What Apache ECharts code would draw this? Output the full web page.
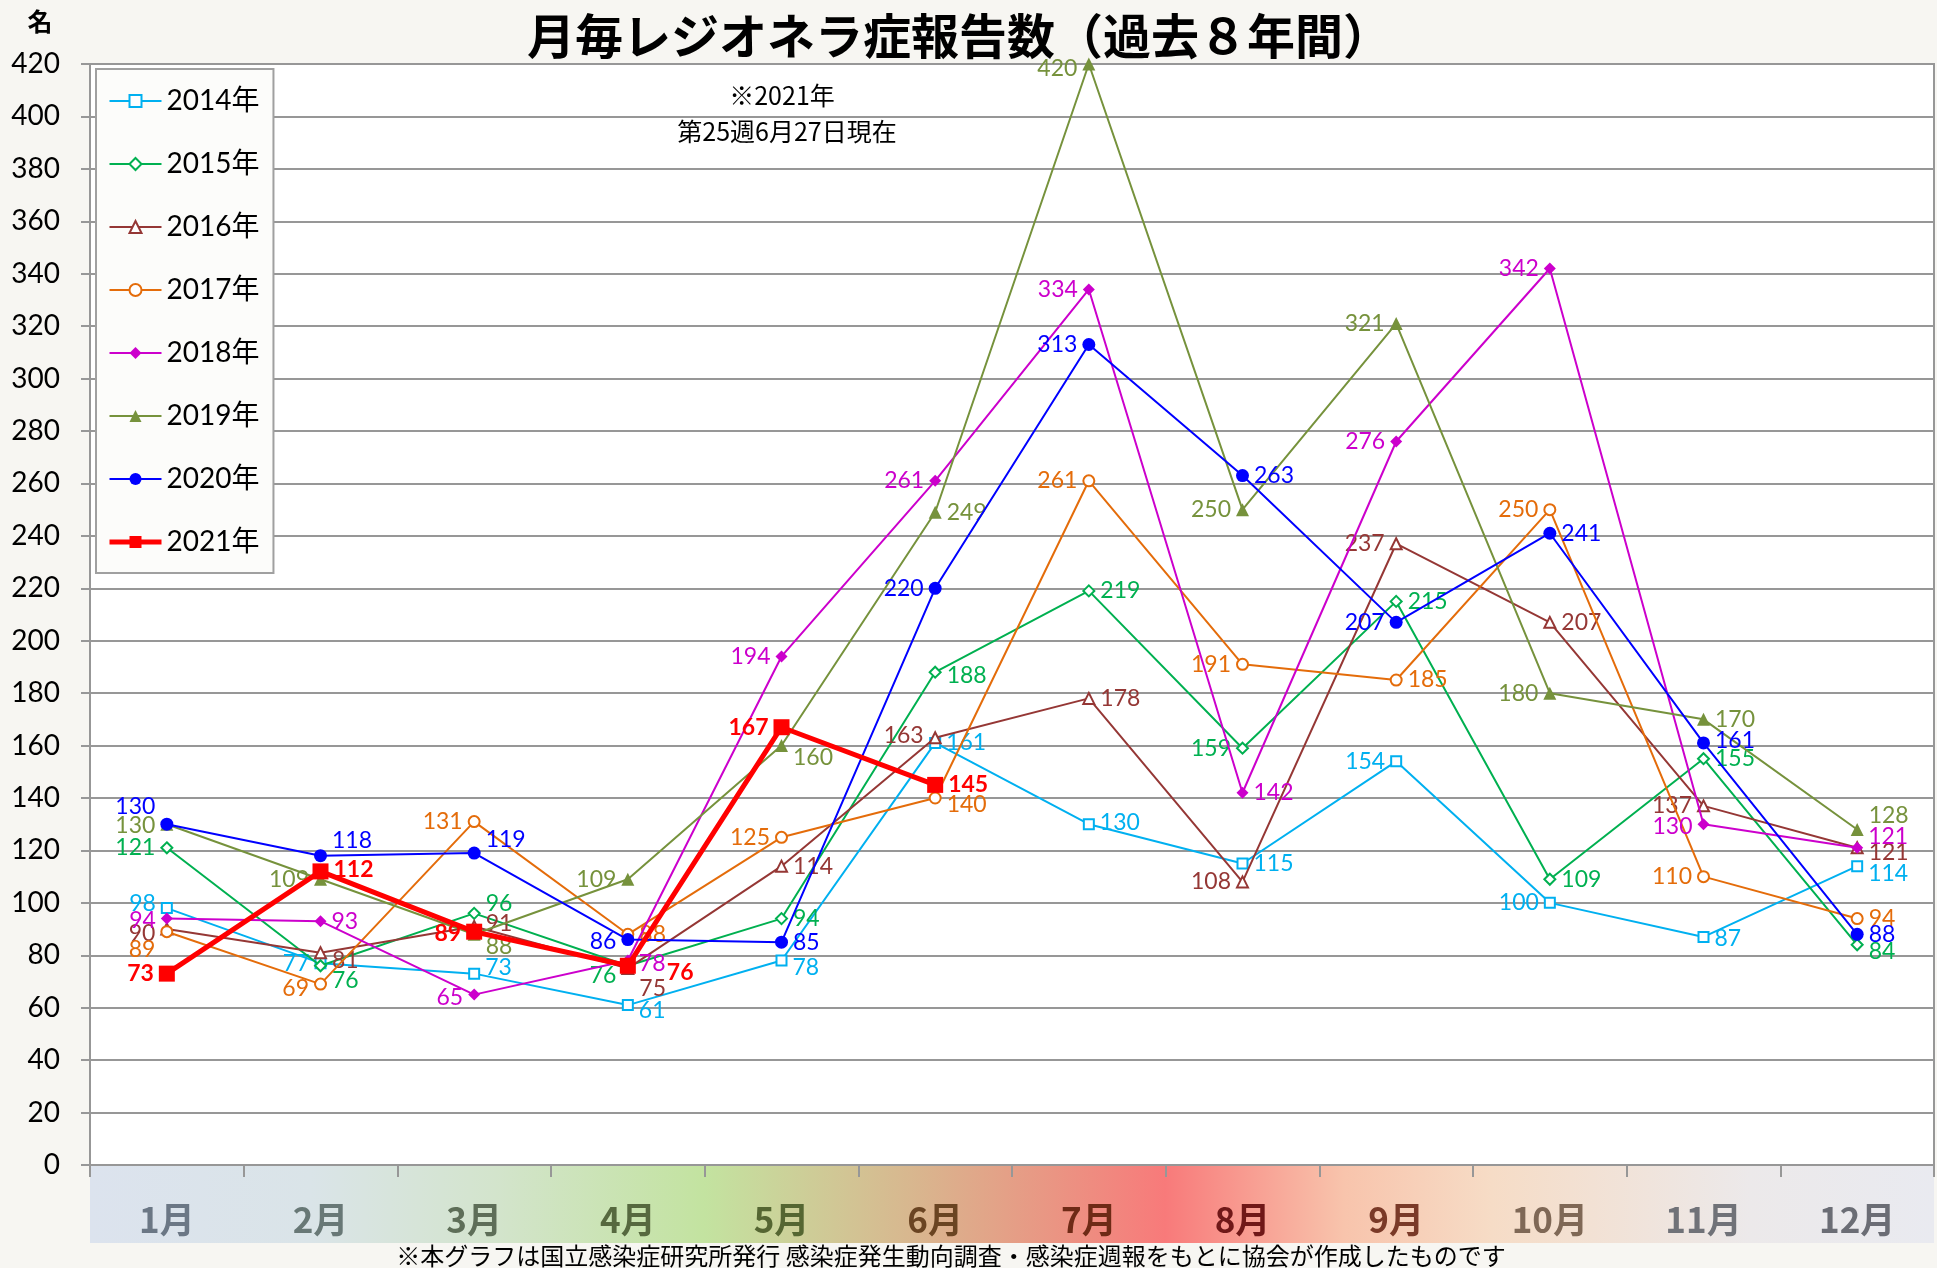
<!DOCTYPE html>
<html><head><meta charset="utf-8">
<script src="https://cdn.jsdelivr.net/npm/echarts@6/dist/echarts.min.js"></script>
<style>html,body{margin:0;padding:0;background:#f7f6f2}#c{width:1937px;height:1268px}</style>
</head><body><div id="c"></div>
<script>
// ---- data ----
const months = ['1月','2月','3月','4月','5月','6月','7月','8月','9月','10月','11月','12月'];
const seriesNames = ['2014年','2015年','2016年','2017年','2018年','2019年','2020年','2021年'];
const y2014 = [98, 77, 73, 61, 78, 161, 130, 115, 154, 100, 87, 114];
const y2015 = [121, 76, 96, 76, 94, 188, 219, 159, 215, 109, 155, 84];
const y2016 = [90, 81, 91, 75, 114, 163, 178, 108, 237, 207, 137, 121];
const y2017 = [89, 69, 131, 88, 125, 140, 261, 191, 185, 250, 110, 94];
const y2018 = [94, 93, 65, 78, 194, 261, 334, 142, 276, 342, 130, 121];
const y2019 = [130, 109, 88, 109, 160, 249, 420, 250, 321, 180, 170, 128];
const y2020 = [130, 118, 119, 86, 85, 220, 313, 263, 207, 241, 161, 88];
const y2021 = [73, 112, 89, 76, 167, 145];
const yMin = 0, yMax = 420, yStep = 20;
const titleText = '月毎レジオネラ症報告数（過去８年間）';
const unitText = '名';
const noteLines = ['※2021年', '第25週6月27日現在'];
const footerText = '※本グラフは国立感染症研究所発行 感染症発生動向調査・感染症週報をもとに協会が作成したものです';

// ---- styles (label placement per point: side and vertical shift) ----
const styles = [
  {color:'#00b0f0', symbol:'emptyRect',     size:10, width:2,
   side:'llrrrrrrllrr', dy:[-5,0,-6,5,7,0,-2,0,0,0,2,7]},
  {color:'#00b050', symbol:'emptyDiamond',  size:11, width:2,
   side:'lrrlrrrlrrrr', dy:[0,15,-10,10,0,3,0,0,0,0,0,7]},
  {color:'#953735', symbol:'emptyTriangle', size:11, width:2,
   side:'lrrrrlrllrlr', dy:[5,8,-3,20,0,-2,0,0,0,0,0,5]},
  {color:'#e46c0a', symbol:'emptyCircle',   size:11, width:2,
   side:'lllrlrllrllr', dy:[18,4,0,0,0,7,0,0,0,0,0,0]},
  {color:'#cc00cc', symbol:'diamond',       size:12, width:2,
   side:'lrlrlllrlllr', dy:[2,0,3,3,0,0,0,0,0,0,2,-11]},
  {color:'#76923c', symbol:'triangle',      size:13, width:2,
   side:'llrlrrllllrr', dy:[1,0,12,0,12,0,5,0,0,0,0,-14]},
  {color:'#0000ff', symbol:'circle',        size:13, width:2,
   side:'lrrlrllrlrrr', dy:[-18,-15,-13,2,0,0,0,0,0,0,-2,0]},
  {color:'#ff0000', symbol:'rect',          size:16, width:5, bold:true,
   side:'lrlrlr', dy:[0,-2,2,7,0,0], dx:[0,0,0,26,0,0]}
];
const allValues = [y2014,y2015,y2016,y2017,y2018,y2019,y2020,y2021];

const monthColors = ['#6b7785','#687876','#5e6e58','#56693f','#556632','#6a4422','#6e2a16','#701818','#7a3a28','#7f6856','#707278','#6b6d75'];

const GL = 90, GT = 64, GR = 3, GB = 103;
const W = 1937, H = 1268;
const CJK = '"Noto Sans CJK JP", sans-serif';

const series = allValues.map((vals, si) => {
  const st = styles[si];
  return {
    name: seriesNames[si],
    type: 'line',
    data: vals.map((v, i) => ({
      value: v,
      label: {
        position: st.side[i] === 'l' ? 'left' : 'right',
        offset: [st.dx ? st.dx[i] * (st.side[i]==='l'?-1:1) : 0, st.dy[i]]
      }
    })),
    symbol: st.symbol,
    symbolSize: st.size,
    showAllSymbol: true,
    color: st.color,
    lineStyle: {color: st.color, width: st.width},
    itemStyle: {color: st.color, borderColor: st.color, borderWidth: st.symbol.startsWith('empty') ? 1.6 : 0},
    label: {
      show: true,
      color: st.color,
      fontSize: 23,
      fontFamily: 'Lato, "Noto Sans", sans-serif',
      fontWeight: st.bold ? 'bold' : 'normal',
      distance: 5
    },
    emphasis: {disabled: true},
    z: 2 + si,
    animation: false
  };
});

const chart = echarts.init(document.getElementById('c'), null, {renderer: 'canvas', width: W, height: H});
chart.setOption({
  backgroundColor: '#f7f6f2',
  animation: false,
  legend: {
    orient: 'vertical', left: 96, top: 69,
    data: seriesNames.map((n, i) => ({name: n, lineStyle: {width: styles[i].width}})),
    itemWidth: 52, itemHeight: 15, itemGap: 33,
    padding: [17, 14, 16, 11],
    backgroundColor: '#fcfcfa', borderColor: '#a0a0a0', borderWidth: 2,
    textStyle: {fontSize: 28, color: '#000', fontFamily: 'Lato, "Noto Sans CJK JP", sans-serif', lineHeight: 30}
  },
  grid: {left: GL, right: GR, top: GT, bottom: GB, show: true, backgroundColor: '#ffffff', borderColor: '#979797', borderWidth: 2},
  xAxis: {
    type: 'category', data: months.map((m, i) => ({value: m, textStyle: {color: monthColors[i]}})),
    boundaryGap: true,
    axisLine: {lineStyle: {color: '#979797', width: 2}},
    axisTick: {show: true, length: 12, lineStyle: {color: '#979797', width: 2}},
    axisLabel: {margin: 37, fontSize: 35, fontWeight: 'bold', fontFamily: CJK}
  },
  yAxis: {
    type: 'value', min: yMin, max: yMax, interval: yStep,
    axisLine: {show: true, lineStyle: {color: '#979797', width: 2}},
    axisTick: {show: true, length: 9, lineStyle: {color: '#979797', width: 2}},
    axisLabel: {margin: 30, fontSize: 28, color: '#000', fontFamily: 'Lato, "Noto Sans", sans-serif'},
    splitLine: {lineStyle: {color: '#979797', width: 2}}
  },
  graphic: [
    {type: 'rect', z: -10, silent: true,
     shape: {x: GL, y: H - GB + 1, width: W - GL - GR, height: 77},
     style: {fill: new echarts.graphic.LinearGradient(0, 0, 1, 0, [
       {offset: 0, color: '#dce3ee'},
       {offset: 0.12, color: '#dae4e8'},
       {offset: 0.22, color: '#d3e4cc'},
       {offset: 0.333, color: '#c3e3a0'},
       {offset: 0.45, color: '#d9b58e'},
       {offset: 0.583, color: '#f87a7a'},
       {offset: 0.68, color: '#f8c4ac'},
       {offset: 0.76, color: '#f6dcc6'},
       {offset: 0.9, color: '#ece9ea'},
       {offset: 1, color: '#e9eaf0'}
     ])}},
    {type: 'text', x: 959, y: 36, z: 10,
     style: {text: titleText, fontSize: 48, fontWeight: 'bold', fill: '#000', align: 'center', verticalAlign: 'middle', fontFamily: CJK}},
    {type: 'text', x: 40, y: 21, z: 10,
     style: {text: unitText, fontSize: 25, fontWeight: 'bold', fill: '#000', align: 'center', verticalAlign: 'middle', fontFamily: CJK}},
    {type: 'text', x: 782, y: 95, z: 10,
     style: {text: noteLines[0], fontSize: 25, fill: '#000', align: 'center', verticalAlign: 'middle', fontFamily: CJK}},
    {type: 'text', x: 787, y: 131, z: 10,
     style: {text: noteLines[1], fontSize: 25, fill: '#000', align: 'center', verticalAlign: 'middle', fontFamily: CJK}},
    {type: 'text', x: 951, y: 1256, z: 10,
     style: {text: footerText, fontSize: 24, fill: '#000', align: 'center', verticalAlign: 'middle', fontFamily: CJK}}
  ],
  series: series
});
</script>
</body></html>
